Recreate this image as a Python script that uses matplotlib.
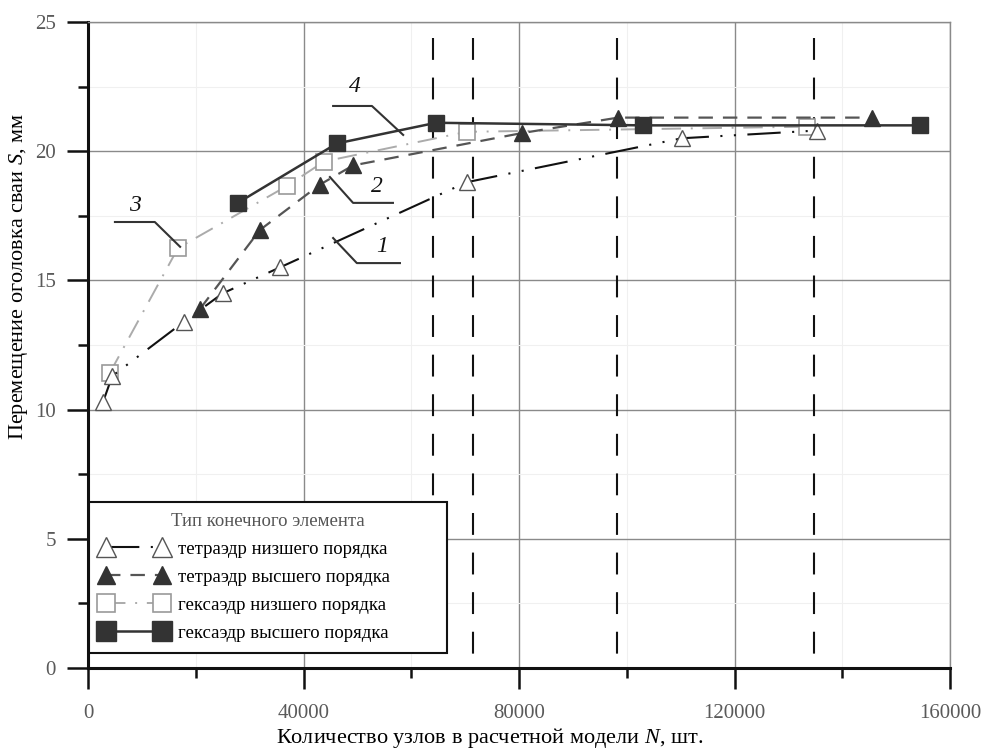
import matplotlib
matplotlib.use("Agg")
import matplotlib.pyplot as plt
from matplotlib.ticker import MultipleLocator

plt.rcParams['font.family'] = ['Liberation Serif', 'DejaVu Serif']
plt.rcParams['mathtext.fontset'] = 'custom'
plt.rcParams['mathtext.rm'] = 'Liberation Serif'
plt.rcParams['mathtext.it'] = 'Liberation Serif:italic'

# ---- data ----
# 1: tetrahedron, lower order
tet_low_N = [2800, 4500, 17800, 25000, 35600, 70300, 110200, 135300]
tet_low_S = [10.3, 11.3, 13.4, 14.5, 15.5, 18.8, 20.5, 20.8]
# 2: tetrahedron, higher order
tet_high_N = [20800, 31900, 43000, 49200, 80500, 98400, 145500]
tet_high_S = [13.9, 16.95, 18.7, 19.45, 20.7, 21.3, 21.3]
# 3: hexahedron, lower order
hex_low_N = [4000, 16700, 36900, 43800, 70300, 133500]
hex_low_S = [11.4, 16.25, 18.65, 19.6, 20.75, 20.95]
# 4: hexahedron, higher order
hex_high_N = [27800, 46200, 64600, 103000, 154400]
hex_high_S = [18.0, 20.3, 21.1, 21.0, 21.0]

# vertical dashed marker lines
vline_N = [64000, 71500, 98200, 134700]
vline_top = 24.4

x_ticks = [0, 40000, 80000, 120000, 160000]
y_ticks = [0, 5, 10, 15, 20, 25]

legend_title = 'Тип конечного элемента'
labels = ['тетраэдр низшего порядка', 'тетраэдр высшего порядка',
          'гексаэдр низшего порядка', 'гексаэдр высшего порядка']

# curve numbers with leader lines (text position, leader polyline)
notes = [
    ('1', (54600, 16.3), [(45500, 16.64), (49900, 15.67), (57900, 15.67)]),
    ('2', (53600, 18.65), [(44900, 19.0), (49200, 18.0), (56600, 18.0)]),
    ('3', (8700, 17.9), [(5000, 17.26), (12400, 17.26), (17100, 16.3)]),
    ('4', (49550, 22.5), [(45500, 21.75), (52700, 21.75), (58500, 20.63)]),
]

fig = plt.figure(figsize=(9.84, 7.53), dpi=100)
ax = fig.add_axes([88 / 984, 85 / 753, 862 / 984, 646 / 753])

ax.set_xlim(0, 160000)
ax.set_ylim(0, 25)
ax.set_xticks(x_ticks)
ax.set_xticklabels([str(v) for v in x_ticks])
ax.set_yticks(y_ticks)
ax.set_yticklabels([str(v) for v in y_ticks])
ax.xaxis.set_minor_locator(MultipleLocator(20000))
ax.yaxis.set_minor_locator(MultipleLocator(2.5))

ax.grid(which='major', color='#8a8a8a', linewidth=1.0)
ax.grid(which='minor', color='#f0f0f0', linewidth=0.8)
ax.set_axisbelow(True)

for s in ['top', 'right']:
    ax.spines[s].set_color('#8a8a8a')
    ax.spines[s].set_linewidth(1.0)
for s in ['left', 'bottom']:
    ax.spines[s].set_color('#111111')
    ax.spines[s].set_linewidth(2.2)

ax.tick_params(which='major', direction='out', length=15, width=1.8,
               color='#111111', labelsize=15, labelcolor='#5a5a5a')
ax.tick_params(axis='x', which='major', pad=11)
ax.tick_params(axis='y', which='major', pad=8)
ax.tick_params(which='minor', direction='out', length=7, width=1.8,
               color='#111111')

# vertical dashed lines
for xv in vline_N:
    ax.plot([xv, xv], [vline_top, 0], color='#111111', lw=1.5,
            linestyle=(0, (10.5, 8.5)), zorder=2)

# series
l1, = ax.plot(tet_low_N, tet_low_S, color='#111111', lw=1.5,
              linestyle=(0, (16, 5.5, 1, 5.5, 1, 5.5)),
              marker='^', ms=12, mfc='white', mec='#555555', mew=1.0, zorder=4)
l2, = ax.plot(tet_high_N, tet_high_S, color='#555555', lw=1.6,
              linestyle=(0, (6.5, 4.5)),
              marker='^', ms=11, mfc='#333333', mec='#333333', zorder=5)
l3, = ax.plot(hex_low_N, hex_low_S, color='#ababab', lw=1.4,
              linestyle=(0, (10, 5, 1, 5)),
              marker='s', ms=11, mfc='white', mec='#9a9a9a', mew=1.2, zorder=3)
l4, = ax.plot(hex_high_N, hex_high_S, color='#333333', lw=1.8,
              marker='s', ms=12, mfc='#333333', mec='#333333', zorder=6)

# curve numbers
for txt, pos, pts in notes:
    ax.plot([p[0] for p in pts], [p[1] for p in pts], color='#333333',
            lw=1.5, zorder=7)
    ax.text(pos[0], pos[1], txt, fontsize=17, fontstyle='italic',
            ha='center', va='center', color='#111111', zorder=7)

leg = ax.legend([l1, l2, l3, l4], labels, title=legend_title,
                loc='lower left', bbox_to_anchor=(0.001, 0.023, 0.4155, 0.25),
                mode='expand', borderaxespad=0, numpoints=2,
                handlelength=3.6, markerscale=1.15,
                handletextpad=0.55, labelspacing=0.58, borderpad=0.6,
                fontsize=13.5, title_fontsize=13.5, fancybox=False,
                framealpha=1, edgecolor='#111111')
leg.get_frame().set_linewidth(1.5)
leg.get_title().set_color('#555555')
leg.set_zorder(10)

ax.set_xlabel('Количество узлов в расчетной модели $N$, шт.', fontsize=16)
ax.xaxis.label.set_va('center')
ax.xaxis.set_label_coords((490 - 88) / 862, -(738 - 668) / 646)
ax.set_ylabel('Перемещение оголовка сваи $S$, мм', fontsize=16)
ax.yaxis.set_label_coords(-58 / 862, (668 - 276) / 646)

fig.savefig('out.png', dpi=100)
